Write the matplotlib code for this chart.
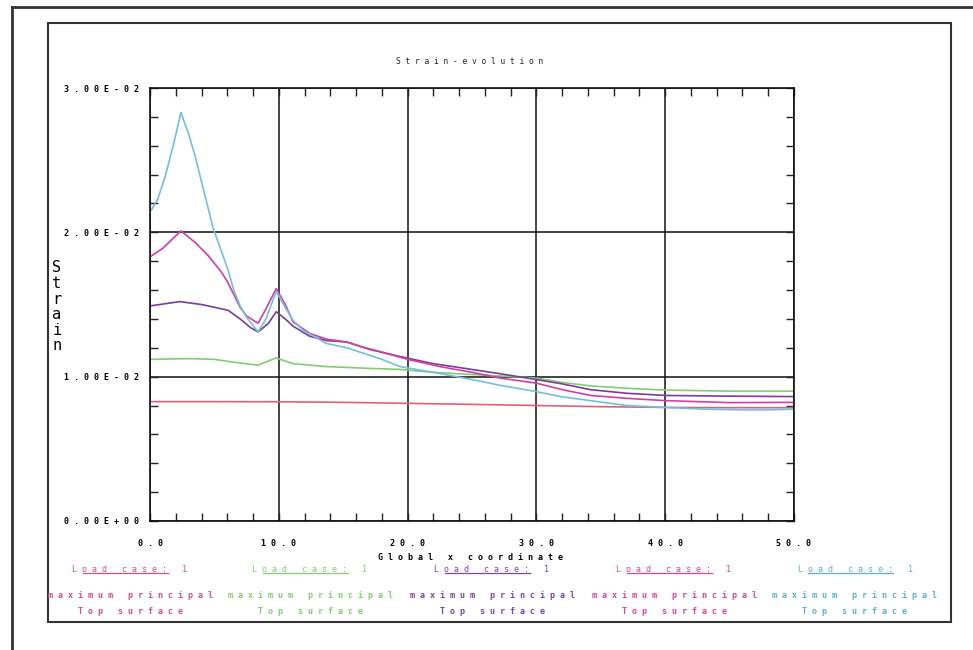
"""Strain evolution along the global x coordinate, five load-case curves."""

import matplotlib.pyplot as plt
from matplotlib.lines import Line2D
from matplotlib.patches import Rectangle
from matplotlib.ticker import MultipleLocator

# Curve data (strain)
x_red = [0, 5, 10, 15, 20, 25, 30, 35, 40, 45, 50]
y_red = [0.00827, 0.00827, 0.00826, 0.00822, 0.00815, 0.00808, 0.00800, 0.00792,
         0.00787, 0.00785, 0.00785]

x_green = [0, 3, 5, 6.5, 8.4, 9.8, 11.1, 13.7, 16.3, 19.4, 22, 25, 27.2, 30, 32,
           34.2, 37, 40, 45, 50]
y_green = [0.0112, 0.01125, 0.0112, 0.0110, 0.0108, 0.0113, 0.0109, 0.0107, 0.0106,
           0.0105, 0.0103, 0.01015, 0.01005, 0.0099, 0.0096, 0.00936, 0.0092,
           0.00907, 0.0090, 0.0090]

x_purple = [0, 2.3, 4, 6.06, 7, 7.8, 8.4, 9.2, 9.8, 10.5, 11.1, 12.4, 13.7, 15.3,
            17, 19.4, 22, 25, 27.2, 30, 32, 34.2, 37, 40, 45, 50]
y_purple = [0.0149, 0.0152, 0.0150, 0.0146, 0.0140, 0.0134, 0.0131, 0.0137, 0.0145,
            0.0140, 0.0135, 0.0128, 0.0125, 0.0124, 0.0119, 0.0114, 0.0109, 0.0105,
            0.0102, 0.0098, 0.0095, 0.0091, 0.00885, 0.0087, 0.00865, 0.00862]

x_pink = [0, 1, 2.4, 3.5, 4.5, 5.5, 6.0, 6.5, 7.0, 7.5, 8.4, 9.0, 9.8, 10.5, 11.1,
          12.4, 13.7, 15.3, 16.3, 18, 20, 22.5, 25, 27.2, 30, 32, 34.2, 37, 40, 45, 50]
y_pink = [0.0183, 0.0189, 0.0201, 0.0193, 0.0184, 0.0173, 0.0166, 0.0157, 0.0148,
          0.0142, 0.0137, 0.0147, 0.0161, 0.0150, 0.0138, 0.0130, 0.0126, 0.0124,
          0.0121, 0.0117, 0.0112, 0.0107, 0.0103, 0.0099, 0.00955, 0.0091, 0.0087,
          0.0085, 0.00834, 0.0082, 0.00822]

x_cyan = [0, 0.6, 1.16, 1.8, 2.4, 3.0, 3.5, 4.0, 4.9, 5.5, 6.06, 6.5, 7.0, 7.5, 8.4,
          9.0, 9.8, 10.5, 11.1, 11.9, 13.7, 15.3, 16.3, 18, 19.4, 22, 25, 27.2, 30,
          32, 34.2, 37, 40, 43, 46, 48, 50]
y_cyan = [0.0214, 0.0223, 0.0238, 0.0260, 0.0283, 0.0268, 0.0253, 0.0235, 0.0203,
          0.0188, 0.0174, 0.0160, 0.0149, 0.0141, 0.0131, 0.0140, 0.0159, 0.0148,
          0.0139, 0.0132, 0.0123, 0.0120, 0.0117, 0.0112, 0.0107, 0.0103, 0.0098,
          0.0094, 0.00896, 0.0086, 0.00834, 0.0080, 0.00787, 0.00775, 0.0077,
          0.0077, 0.00775]

series = [
    (x_red, y_red, "#e0607a"),
    (x_green, y_green, "#84cc72"),
    (x_purple, y_purple, "#7a3c9e"),
    (x_pink, y_pink, "#d63ea2"),
    (x_cyan, y_cyan, "#72c0e0"),
]

x_ticks = [0, 10, 20, 30, 40, 50]
x_tick_labels = ["0.0", "10.0", "20.0", "30.0", "40.0", "50.0"]
y_ticks = [0.0, 0.01, 0.02, 0.03]
y_tick_labels = ["0.00E+00", "1.00E-02", "2.00E-02", "3.00E-02"]

legend_colors = ["#d8507a", "#7fcf6f", "#8040a8", "#e040a0", "#5ab0d8"]
legend_centers = [130, 310, 492, 674, 855]

MONO = "DejaVu Sans Mono"


def spaced(s):
    """Spread characters like the old plotter font."""
    return " ".join(s)


fig = plt.figure(figsize=(9.73, 6.5), dpi=100)
W, H = 973, 650


def fx(px):
    return px / W


def fy(py):
    return 1 - py / H


# Page frames
fig.add_artist(Rectangle((fx(48), fy(622)), fx(951) - fx(48), fy(23) - fy(622),
                         transform=fig.transFigure, fill=False, lw=1.5,
                         edgecolor="#333333"))
fig.add_artist(Line2D([fx(12), fx(12)], [fy(7), 0], transform=fig.transFigure,
                      color="#333333", lw=2))
fig.add_artist(Line2D([fx(12), 1], [fy(7), fy(7)], transform=fig.transFigure,
                      color="#333333", lw=2))

ax = fig.add_axes([fx(150), fy(521), fx(794) - fx(150), fy(88) - fy(521)])

for xs, ys, color in series:
    ax.plot(xs, ys, color=color, lw=1.2)

ax.set_xlim(0, 50)
ax.set_ylim(0, 0.03)
ax.set_xticks(x_ticks)
ax.set_xticklabels([spaced(t) for t in x_tick_labels], family=MONO,
                   fontweight="bold", fontsize=6)
ax.set_yticks(y_ticks)
ax.set_yticklabels([spaced(t) for t in y_tick_labels], family=MONO,
                   fontweight="bold", fontsize=6)
ax.xaxis.set_minor_locator(MultipleLocator(2))
ax.yaxis.set_minor_locator(MultipleLocator(0.002))
ax.tick_params(which="both", direction="in", top=True, right=True, length=6,
               width=1, color="#222222")
ax.tick_params(axis="x", which="major", pad=13)
ax.tick_params(axis="y", which="major", pad=8)
ax.grid(True, which="major", color="#111111", lw=1.1)
for sp in ax.spines.values():
    sp.set_linewidth(1.2)
    sp.set_color("#111111")

fig.text(fx(470), fy(62), spaced("Strain-evolution"), family=MONO, fontsize=5.7,
         ha="center", va="center", color="#222222")
fig.text(fx(470), fy(557), "G l o b a l   x   c o o r d i n a t e", family=MONO,
         fontsize=6, fontweight="bold", ha="center", va="center")
fig.text(fx(57), fy(307), "\n".join("Strain"), family=MONO, fontsize=11,
         ha="center", va="center", linespacing=1.05)

# Legend block under the axes
fig.canvas.draw()
renderer = fig.canvas.get_renderer()
for cx, color in zip(legend_centers, legend_colors):
    lc = fig.text(fx(cx), fy(570), "L o a d   c a s e :   1", family=MONO,
                  fontsize=6, ha="center", va="center", color=color)
    fig.text(fx(cx), fy(595), "m a x i m u m   p r i n c i p a l", family=MONO,
             fontsize=6, fontweight="bold", ha="center", va="center", color=color)
    fig.text(fx(cx), fy(612), "T o p   s u r f a c e", family=MONO, fontsize=6,
             fontweight="bold", ha="center", va="center", color=color)
    bb = lc.get_window_extent(renderer)
    n = len("L o a d   c a s e :   1")
    cw = bb.width / n
    x0 = (bb.x0 + 2 * cw) / W
    x1 = (bb.x0 + 19 * cw) / W
    fig.add_artist(Line2D([x0, x1], [bb.y0 / H + 0.002, bb.y0 / H + 0.002],
                          transform=fig.transFigure, color=color, lw=0.9))

fig.savefig("out.png", dpi=100)
